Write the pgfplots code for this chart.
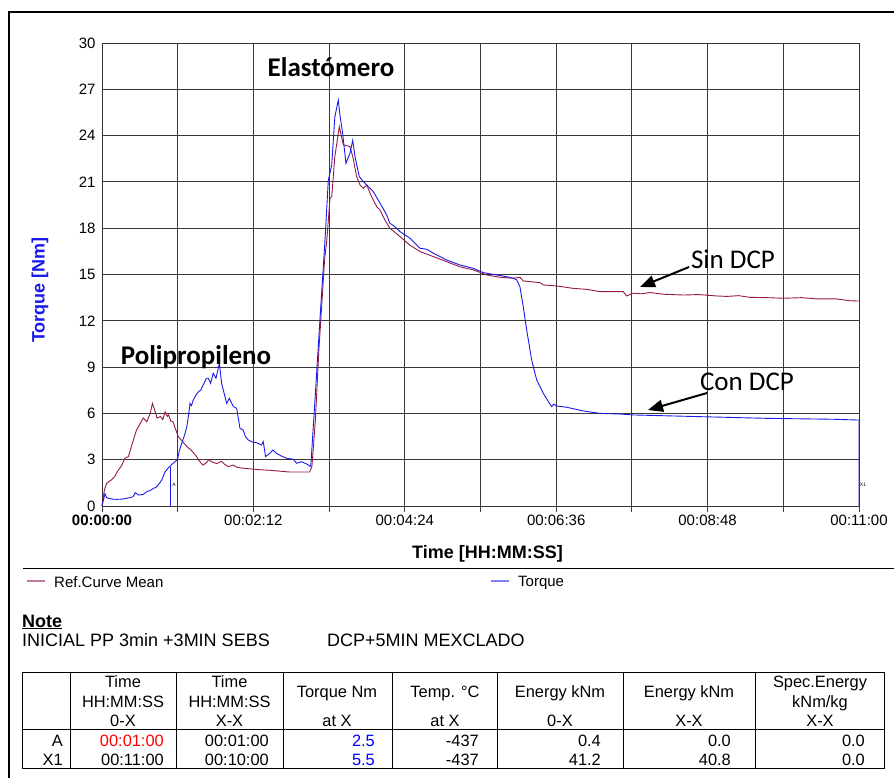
\documentclass[border=0pt]{standalone}
\usepackage{fontspec}
\setmainfont{Liberation Sans}
\newfontfamily\calib{Carlito}
\usepackage{pgfplots}
\pgfplotsset{compat=1.18}
\usetikzlibrary{arrows.meta}
\definecolor{refred}{RGB}{150,25,75}
\definecolor{tblue}{RGB}{25,25,235}
\definecolor{refredl}{RGB}{195,120,160}
\definecolor{tbluel}{RGB}{130,130,245}
\begin{document}
\begin{tikzpicture}[x=1pt,y=1pt]
\useasboundingbox (0,0) rectangle (894,-778);
\draw[line width=2pt] (9,-778) -- (9,-12) -- (894,-12);
\begin{axis}[at={(102pt,-506pt)}, anchor=south west,
  width=757pt, height=463pt, scale only axis,
  xmin=0, xmax=660, ymin=0, ymax=30,
  xtick={0,66,...,660}, ytick={0,3,...,30},
  xticklabels={\textbf{00:00:00},,00:02:12,,00:04:24,,00:06:36,,00:08:48,,00:11:00},
  tick align=outside, major tick length=6pt,
  xtick pos=bottom, ytick pos=left,
  xtick style={draw=black!75, line width=1pt},
  ytick style={draw=none},
  xmajorgrids=true, ymajorgrids=true,
  major grid style={draw=black!78, line width=1pt},
  axis line style={black!80, line width=1pt},
  ticklabel style={font=\fontsize{15}{18}\selectfont},
  xticklabel style={yshift=1pt},
  yticklabel style={xshift=3pt},
  /pgf/number format/assume math mode=true,
  clip=false]
\addplot[refred, line width=0.9pt] coordinates {
(0,0) (2,1.0) (4,1.47) (8,1.68) (11,1.9) (14,2.3) (17,2.6) (20,3.1) (23,3.2) (26,3.95)
(30,4.9) (33,5.3) (36,5.7) (39,5.45) (42,6.0) (44,6.65) (46,6.2) (48,5.7) (51,5.8) (53,5.6)
(55,6.1) (57,5.8) (58,5.9) (60,5.5) (62,5.45) (64,5.0) (66.5,4.5) (70,4.2) (74,3.85) (78,3.6)
(82.5,3.2) (85,2.9) (88,2.65) (91,2.8) (93,3.0) (96,2.85) (100,2.75) (104,2.9) (107,2.7) (110,2.55)
(114.5,2.65) (118,2.5) (123,2.45) (130,2.4) (138,2.35) (145,2.32) (149,2.3) (156,2.25) (164,2.2)
(172,2.2) (181,2.2) (183,2.55) (186,5.5) (189,10) (192,13.5) (194,15.9) (196,17.24) (198.8,19.94)
(200.3,20.05) (203,22.64) (206.9,24.58) (210.4,23.4) (216.2,23.29) (219,22.53) (222,21.34) (225,20.8)
(227.8,20.59) (230.8,20.8) (235,20.05) (239.5,19.4) (242.4,19.18) (246.7,18.53) (251,18.0)
(259.8,17.46) (268.5,16.9) (277.2,16.49) (288.9,16.16) (300.5,15.83) (312,15.5) (323.7,15.3)
(335.4,14.97) (347,14.82) (358.6,14.76) (364.4,14.82) (367.3,14.58) (373,14.54) (381.9,14.47)
(384.8,14.32) (396.4,14.26) (411,14.1) (422.6,14.04) (434,13.89) (451.6,13.89) (454.5,13.89)
(457.4,13.61) (463.2,13.79) (470,13.75) (477.8,13.83) (490,13.72) (506.8,13.67) (520,13.7)
(535.9,13.61) (545,13.58) (555,13.63) (565,13.52) (580,13.5) (594,13.46) (610,13.5) (623,13.42)
(640,13.42) (652,13.3) (660,13.28)
};
\addplot[tblue, line width=0.9pt] coordinates {
(0,0) (2.6,0.8) (4,0.55) (5.5,0.5) (9,0.45) (13,0.43) (18,0.45) (21.5,0.5) (25,0.55) (27,0.6)
(29,0.86) (32,0.71) (36,0.75) (39,0.93) (42,1.0) (45,1.15) (47,1.2) (49,1.36) (52,1.68) (55,2.2)
(57,2.4) (59,2.55) (62,2.77) (65.7,3.0) (67.5,3.6) (69.5,4.05) (72,4.6) (74,5.15) (75.5,5.9)
(76.7,6.65) (78,6.5) (79.6,6.87) (82,7.2) (84,7.4) (86,7.5) (88.3,7.85) (91,8.28) (92.7,8.28)
(94.7,7.95) (97,8.6) (99.4,8.28) (102.3,9.25) (104.3,7.95) (106.5,7.3) (108.7,6.65) (111,6.98)
(114.5,6.44) (117.4,6.33) (120.3,5.03) (123,4.93) (125,4.5) (127.5,4.28) (131,4.15) (134.8,4.1)
(139,3.95) (140.6,4.17) (142.6,3.2) (146,3.4) (149,3.63) (152,3.42) (156,3.25) (161,3.09)
(166.8,3.03) (169.7,2.77) (174,2.87) (178.5,2.72) (182,2.55) (185.7,6.87) (190,12.05) (194.4,17.2)
(197.3,21.1) (200.3,22.1) (203,25.2) (206,26.3) (207.5,25.3) (209.8,24.15) (212.7,22.2)
(216.2,22.86) (218.6,23.7) (220.6,22.64) (224.3,21.34) (227.8,21.02) (232.2,20.7) (236.5,20.37)
(242.4,19.62) (248.2,18.86) (251,18.32) (255.4,18.1) (259.8,17.78) (268.5,17.35) (277.2,16.7)
(283,16.64) (288.9,16.38) (300.5,15.94) (312,15.62) (323.7,15.4) (332.4,15.12) (344,14.97)
(352.7,14.86) (358.6,14.76) (361.6,14.65) (364.4,14.2) (367.3,12.9) (370.3,11.4) (374.6,9.46)
(379,8.17) (384.8,7.3) (389.2,6.76) (392,6.44) (394,6.6) (396.4,6.48) (405,6.4) (419.6,6.16)
(434,6.0) (451.6,5.96) (463,5.9) (521,5.79) (579.5,5.68) (637.6,5.62) (660,5.57) (660,0)
};
\addplot[tblue, line width=0.9pt] coordinates {(60,0) (60,2.5)};
\end{axis}
% axis labels
\node[rotate=90, text=tblue, font=\fontsize{18}{21}\selectfont\bfseries] at (40,-290) {Torque [Nm]};
\node[anchor=base, inner sep=0, font=\fontsize{18}{21}\selectfont\bfseries] at (487.5,-558) {Time [HH:MM:SS]};
\node[font=\fontsize{5}{6}\selectfont, inner sep=0] at (174,-485) {A};
\node[font=\fontsize{5}{6}\selectfont, inner sep=0] at (863,-485) {X1};
% annotations
\node[font=\calib\fontsize{27}{30}\selectfont\bfseries, anchor=base] at (331,-77) {Elastómero};
\node[font=\calib\fontsize{27}{30}\selectfont\bfseries, anchor=base] at (196,-364) {Polipropileno};
\node[font=\calib\fontsize{27}{30}\selectfont, anchor=base] at (733,-268) {Sin DCP};
\node[font=\calib\fontsize{27}{30}\selectfont, anchor=base] at (747,-390) {Con DCP};
\draw[line width=2pt, -{Triangle[length=15pt,width=12pt]}] (689,-267) -- (640,-287);
\draw[line width=2pt, -{Triangle[length=15pt,width=12pt]}] (707,-393) -- (648,-410);
% separator and legend
\draw[line width=1pt] (23,-568) -- (894,-568);
\draw[refredl, line width=1.2pt] (27,-581) -- (45,-581);
\node[anchor=base west, inner sep=0, font=\fontsize{15}{18}\selectfont] at (54,-587) {Ref.Curve Mean};
\draw[tbluel, line width=1.2pt] (491,-581) -- (509,-581);
\node[anchor=base west, inner sep=0, font=\fontsize{15}{18}\selectfont] at (518,-586) {Torque};
% note
\node[anchor=base west, inner sep=0, font=\fontsize{18}{21}\selectfont\bfseries] at (22,-627) {\underline{Note}};
\node[anchor=base west, inner sep=0, font=\fontsize{18}{21}\selectfont] at (22,-646) {INICIAL PP 3min +3MIN SEBS};
\node[anchor=base west, inner sep=0, font=\fontsize{18}{21}\selectfont] at (327,-646) {DCP+5MIN MEXCLADO};
% table
\draw[line width=1pt] (22,-672) rectangle (884,-768);
\draw[line width=0.8pt] (22,-729) -- (884,-729);
\foreach \cx in {70,176,283,392,497,623,755} { \draw[line width=0.8pt] (\cx,-672) -- (\cx,-768); }
\begin{scope}[every node/.style={font=\fontsize{16.4}{19}\selectfont, inner sep=0, anchor=base}]
\node at (123,-687) {Time}; \node at (123,-707) {HH:MM:SS}; \node at (123,-726) {0-X};
\node at (229.5,-687) {Time}; \node at (229.5,-707) {HH:MM:SS}; \node at (229.5,-726) {X-X};
\node at (337,-697) {Torque Nm}; \node at (337,-726) {at X};
\node at (445,-697) {Temp. °C}; \node at (445,-726) {at X};
\node at (560,-697) {Energy kNm}; \node at (560,-726) {0-X};
\node at (689,-697) {Energy kNm}; \node at (689,-726) {X-X};
\node at (820,-687) {Spec.Energy}; \node at (820,-707) {kNm/kg}; \node at (820,-726) {X-X};
\end{scope}
\begin{scope}[every node/.style={font=\fontsize{16.4}{19}\selectfont, inner sep=0, anchor=base east}]
\node at (63,-746) {A}; \node at (63,-765) {X1};
\node[text=red] at (164,-746) {00:01:00}; \node at (164,-765) {00:11:00};
\node at (269,-746) {00:01:00}; \node at (269,-765) {00:10:00};
\node[text=blue] at (375,-746) {2.5}; \node[text=blue] at (375,-765) {5.5};
\node at (479,-746) {-437}; \node at (479,-765) {-437};
\node at (601,-746) {0.4}; \node at (601,-765) {41.2};
\node at (731,-746) {0.0}; \node at (731,-765) {40.8};
\node at (865,-746) {0.0}; \node at (865,-765) {0.0};
\end{scope}
\end{tikzpicture}
\end{document}
